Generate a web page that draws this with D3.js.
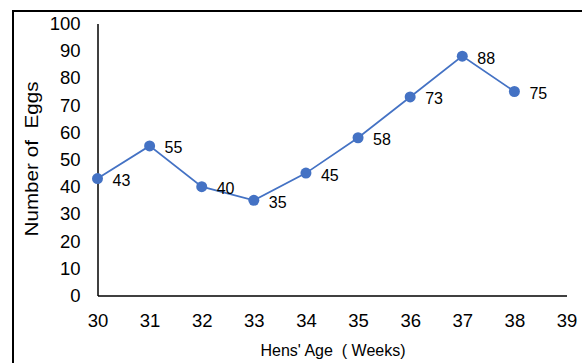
<!DOCTYPE html>
<html>
<head>
<meta charset="utf-8">
<script src="https://cdn.jsdelivr.net/npm/d3@7"></script>
<style>
  html, body { margin: 0; padding: 0; background: #fff; }
  svg { display: block; font-family: "Liberation Sans", Arial, sans-serif; }
</style>
</head>
<body>
<svg id="chart" width="582" height="363"></svg>
<script>
// Egg counts by hen age
const weeks = [30, 31, 32, 33, 34, 35, 36, 37, 38];
const eggs = [43, 55, 40, 35, 45, 58, 73, 88, 75];
const xTicks = [30, 31, 32, 33, 34, 35, 36, 37, 38, 39];
const yTicks = [0, 10, 20, 30, 40, 50, 60, 70, 80, 90, 100];

const svg = d3.select("#chart");
const W = 582, H = 363;

// outer frame
svg.append("rect")
  .attr("x", 13).attr("y", 11)
  .attr("width", W + 20).attr("height", H + 20)
  .attr("fill", "none").attr("stroke", "#000").attr("stroke-width", 2);

const x = d3.scaleLinear().domain([30, 39]).range([97.5, 566.5]);
const y = d3.scaleLinear().domain([0, 100]).range([295.5, 23.5]);

// y axis
const yAxis = svg.append("g")
  .attr("transform", `translate(${x(30)},0)`)
  .call(d3.axisLeft(y).tickValues(yTicks).tickSize(0).tickPadding(17));
yAxis.select(".domain").attr("stroke", "#000").attr("stroke-width", 1.5);
yAxis.selectAll("text").attr("font-size", 18.5).attr("fill", "#000")
  .attr("font-family", "Liberation Sans, Arial, sans-serif");

// x axis
const xAxis = svg.append("g")
  .attr("transform", `translate(0,${y(0)})`)
  .call(d3.axisBottom(x).tickValues(xTicks).tickSize(0).tickPadding(18));
xAxis.select(".domain").attr("stroke", "#000").attr("stroke-width", 1.5);
xAxis.selectAll("text").attr("font-size", 18.5).attr("fill", "#000")
  .attr("font-family", "Liberation Sans, Arial, sans-serif");

// axis titles
svg.append("text")
  .attr("x", 333).attr("y", 356)
  .attr("text-anchor", "middle")
  .attr("font-size", 16).attr("fill", "#000")
  .style("white-space", "pre")
  .text("Hens' Age  ( Weeks)");

svg.append("text")
  .attr("transform", `translate(37.5,159) rotate(-90)`)
  .attr("text-anchor", "middle")
  .attr("font-size", 19).attr("fill", "#000")
  .attr("textLength", 155).attr("lengthAdjust", "spacingAndGlyphs")
  .style("white-space", "pre")
  .text("Number of  Eggs");

// series
const pts = weeks.map((w, i) => ({ w, v: eggs[i] }));
const line = d3.line().x(d => x(d.w)).y(d => y(d.v));

svg.append("path")
  .datum(pts)
  .attr("d", line)
  .attr("fill", "none")
  .attr("stroke", "#4472C4")
  .attr("stroke-width", 1.75);

svg.append("g").selectAll("circle")
  .data(pts).join("circle")
  .attr("cx", d => x(d.w)).attr("cy", d => y(d.v))
  .attr("r", 5.5)
  .attr("fill", "#4472C4");

svg.append("g").selectAll("text")
  .data(pts).join("text")
  .attr("x", d => x(d.w) + 15)
  .attr("y", d => y(d.v) + 7.5)
  .attr("font-size", 16).attr("fill", "#000")
  .text(d => d.v);
</script>
</body>
</html>
